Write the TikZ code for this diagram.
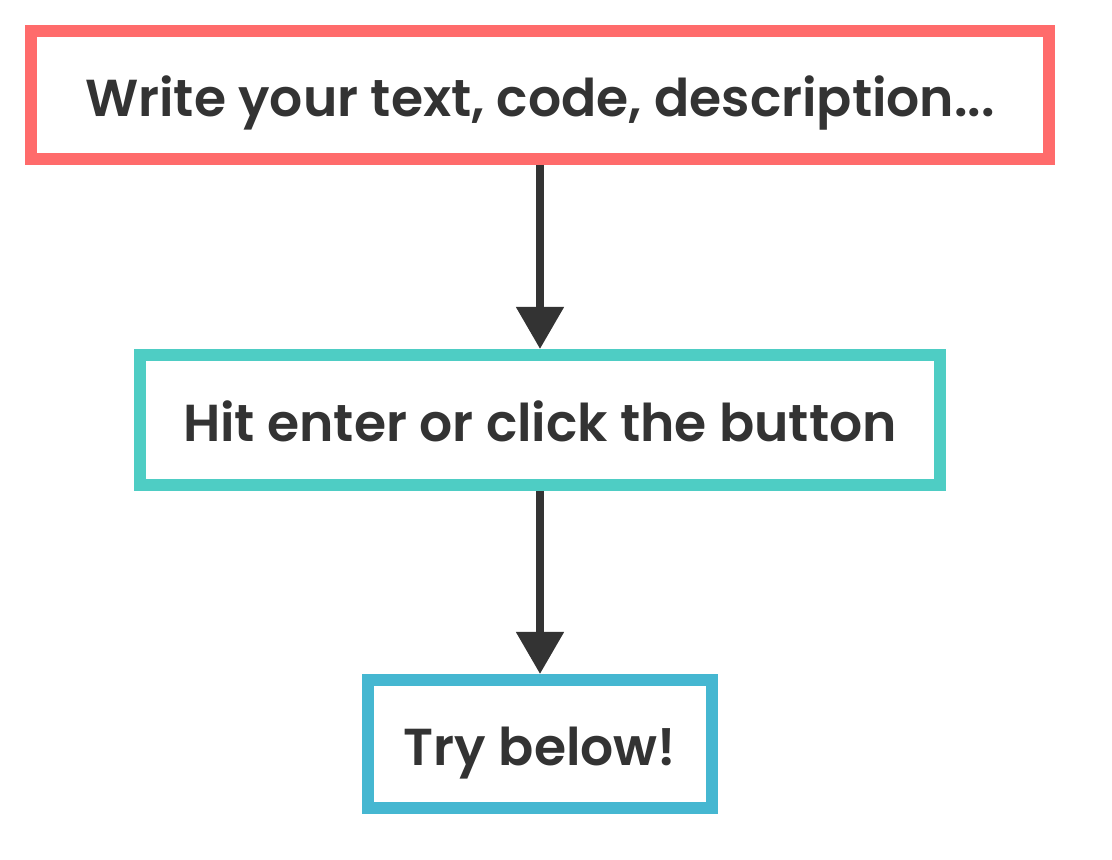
\documentclass[tikz,border=0pt]{standalone}
\usepackage{fontspec}
\setmainfont{Poppins}
\newfontfamily\boxfont{Poppins SemiBold}
\usetikzlibrary{arrows.meta}
\definecolor{txt}{HTML}{333333}
\definecolor{redb}{HTML}{FF6B6B}
\definecolor{tealb}{HTML}{4ECDC4}
\definecolor{blueb}{HTML}{45B7D1}
\tikzset{
  box/.style={draw, line width=12pt, fill=white, inner sep=0pt, text=txt,
    text height=44pt, text depth=0pt,
    font=\fontsize{52}{62}\boxfont},
  conn/.style={draw=txt, line width=8pt, -{Triangle[length=42pt,width=46pt]}}
}
\begin{document}
\begin{tikzpicture}[x=1pt,y=1pt]
\useasboundingbox (0,0) rectangle (1112,860);
\node[box, draw=redb, minimum width=1018pt, minimum height=128pt] (b1) at (540,765) {Write your text, code, description...};
\node[box, draw=tealb, minimum width=800pt, minimum height=130pt] (b2) at (540,440) {Hit enter or click the button};
\node[box, draw=blueb, minimum width=344pt, minimum height=128pt] (b3) at (540,116) {Try below!};
\draw[conn] (b1.south) -- (b2.north);
\draw[conn] (b2.south) -- (b3.north);
\end{tikzpicture}
\end{document}
